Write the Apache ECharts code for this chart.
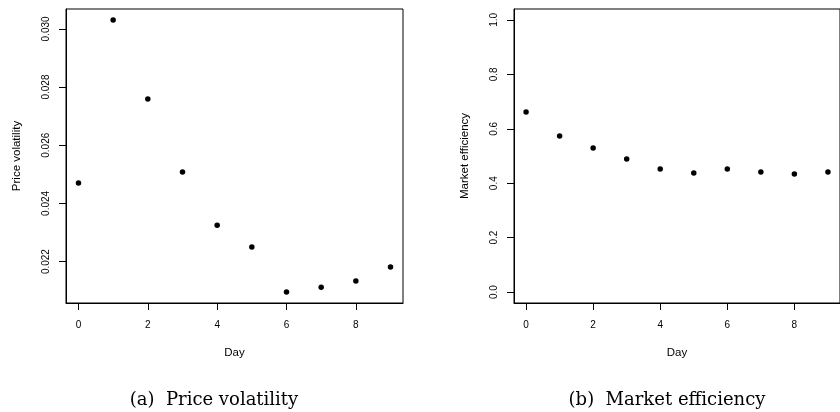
<!DOCTYPE html>
<html>
<head>
<meta charset="utf-8">
<script src="https://cdn.jsdelivr.net/npm/echarts@6/dist/echarts.min.js"></script>
<style>
html,body{margin:0;padding:0;background:#fff;}
#c{width:840px;height:412px;}
</style>
</head>
<body>
<div id="c"></div>
<script>
var days = [0, 1, 2, 3, 4, 5, 6, 7, 8, 9];
var priceVolatility = [0.02470, 0.03031, 0.02759, 0.02508, 0.02325, 0.02250, 0.02095, 0.02112, 0.02133, 0.02181];
var marketEfficiency = [0.6615, 0.5735, 0.5295, 0.489, 0.4525, 0.438, 0.4525, 0.4415, 0.434, 0.4415];
var dayTicks = [0, 2, 4, 6, 8];
var volTicks = [0.022, 0.024, 0.026, 0.028, 0.030];
var effTicks = [0.0, 0.2, 0.4, 0.6, 0.8, 1.0];

function pairs(xs, ys) { return xs.map(function (x, i) { return [x, ys[i]]; }); }

var chart = echarts.init(document.getElementById('c'), null, {renderer: 'canvas'});
var font = 'Liberation Sans, Arial, sans-serif';
function xAxis(gi) {
  return {
    type: 'value', gridIndex: gi, min: -0.36, max: 9.36,
    splitLine: {show: false},
    axisLine: {show: true, onZero: false, lineStyle: {color: '#000', width: 1}},
    axisTick: {show: true, inside: false, length: 7, customValues: dayTicks, lineStyle: {color: '#000', width: 1}},
    axisLabel: {customValues: dayTicks, margin: 17, color: '#000', fontSize: 10, fontFamily: font},
    name: 'Day', nameLocation: 'middle', nameGap: 44,
    nameTextStyle: {color: '#000', fontSize: 11.5, fontFamily: font}
  };
}
function yAxis(gi, min, max, ticks, dec, name) {
  return {
    type: 'value', gridIndex: gi, min: min, max: max,
    splitLine: {show: false},
    axisLine: {show: true, onZero: false, lineStyle: {color: '#000', width: 1}},
    axisTick: {show: true, inside: false, length: 7, customValues: ticks, lineStyle: {color: '#000', width: 1}},
    axisLabel: {customValues: ticks, rotate: 90, margin: 15, color: '#000', fontSize: 10, fontFamily: font,
      formatter: function (v) { return v.toFixed(dec); }},
    name: name, nameLocation: 'middle', nameRotate: 90, nameGap: 43,
    nameTextStyle: {color: '#000', fontSize: 11.5, fontFamily: font}
  };
}
var option = {
  animation: false,
  backgroundColor: '#fff',
  grid: [
    {left: 66, top: 9, width: 337, height: 294, show: true, borderColor: '#000', borderWidth: 1, backgroundColor: 'transparent'},
    {left: 514, top: 9, width: 337, height: 294, show: true, borderColor: '#000', borderWidth: 1, backgroundColor: 'transparent'}
  ],
  xAxis: [xAxis(0), xAxis(1)],
  yAxis: [
    yAxis(0, 0.020576, 0.030684, volTicks, 3, 'Price volatility'),
    yAxis(1, -0.04, 1.04, effTicks, 1, 'Market efficiency')
  ],
  series: [
    {type: 'scatter', xAxisIndex: 0, yAxisIndex: 0, data: pairs(days, priceVolatility),
      symbol: 'circle', symbolSize: 5.5, itemStyle: {color: '#000', opacity: 1}},
    {type: 'scatter', xAxisIndex: 1, yAxisIndex: 1, data: pairs(days, marketEfficiency),
      symbol: 'circle', symbolSize: 5.5, itemStyle: {color: '#000', opacity: 1}}
  ],
  graphic: [
    {type: 'text', x: 214, y: 400, style: {text: '(a)  Price volatility', align: 'center', verticalAlign: 'middle',
      fill: '#000', fontFamily: 'DejaVu Serif', fontSize: 18}},
    {type: 'text', x: 667, y: 400, style: {text: '(b)  Market efficiency', align: 'center', verticalAlign: 'middle',
      fill: '#000', fontFamily: 'DejaVu Serif', fontSize: 18}}
  ]
};
chart.setOption(option);
</script>
</body>
</html>
